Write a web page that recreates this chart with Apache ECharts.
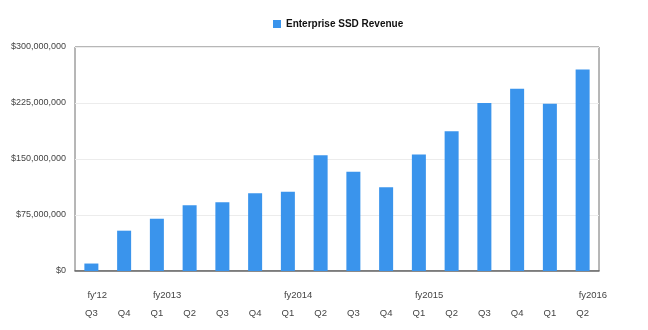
<!DOCTYPE html>
<html>
<head>
<meta charset="utf-8">
<script src="https://cdn.jsdelivr.net/npm/echarts@6/dist/echarts.min.js"></script>
<style>html,body{margin:0;padding:0;background:#fff}#chart{width:648px;height:330px}</style>
</head>
<body>
<div id="chart"></div>
<script>
const quarterLabels = ["Q3","Q4","Q1","Q2","Q3","Q4","Q1","Q2","Q3","Q4","Q1","Q2","Q3","Q4","Q1","Q2"];
const fiscalYearLabels = ["fy'12","","fy2013","","","","fy2014","","","","fy2015","","","","","fy2016"];
const seriesName = "Enterprise SSD Revenue";
const revenue = [10000000,54000000,70000000,88000000,92000000,104000000,106000000,155000000,133000000,112000000,156000000,187000000,225000000,244000000,224000000,270000000];
const yMin = 0, yMax = 300000000, yStep = 75000000;

const font = "'Liberation Sans', Arial, Helvetica, sans-serif";
const chart = echarts.init(document.getElementById('chart'), null, {renderer: 'canvas'});
chart.setOption({
  animation: false,
  textStyle: {fontFamily: font},
  legend: {
    data: [seriesName],
    top: 14, left: 268,
    icon: 'rect', itemWidth: 8, itemHeight: 8, itemGap: 6,
    textStyle: {fontFamily: font, fontSize: 10, fontWeight: 'bold', color: '#111'}
  },
  grid: {left: 75, right: 49, top: 47, bottom: 59, show: true, borderColor: '#6e6e6e', borderWidth: 1, backgroundColor: 'transparent'},
  xAxis: [
    {
      type: 'category', data: quarterLabels, position: 'bottom',
      axisLine: {show: true, lineStyle: {color: '#6a6a6a', width: 1.5}},
      axisTick: {show: false},
      axisLabel: {margin: 37, fontSize: 9.5, color: '#444', fontFamily: font, interval: 0},
      splitLine: {show: false}
    },
    {
      type: 'category', data: fiscalYearLabels, position: 'bottom',
      axisLine: {show: false}, axisTick: {show: false},
      axisLabel: {margin: 19, fontSize: 9.5, color: '#444', fontFamily: font, interval: 0, align: 'left', padding: [0,0,0,-4]},
      splitLine: {show: false}
    }
  ],
  yAxis: {
    type: 'value', min: yMin, max: yMax, interval: yStep,
    axisLine: {show: false}, axisTick: {show: false},
    axisLabel: {
      margin: 9, fontSize: 9, color: '#444', fontFamily: font,
      formatter: v => '$' + v.toLocaleString('en-US')
    },
    splitLine: {show: true, lineStyle: {color: '#ececec', width: 1}}
  },
  series: [{
    name: seriesName, type: 'bar', xAxisIndex: 0,
    data: revenue, barWidth: 14,
    itemStyle: {color: '#3a94ec'}
  }]
});
</script>
</body>
</html>
